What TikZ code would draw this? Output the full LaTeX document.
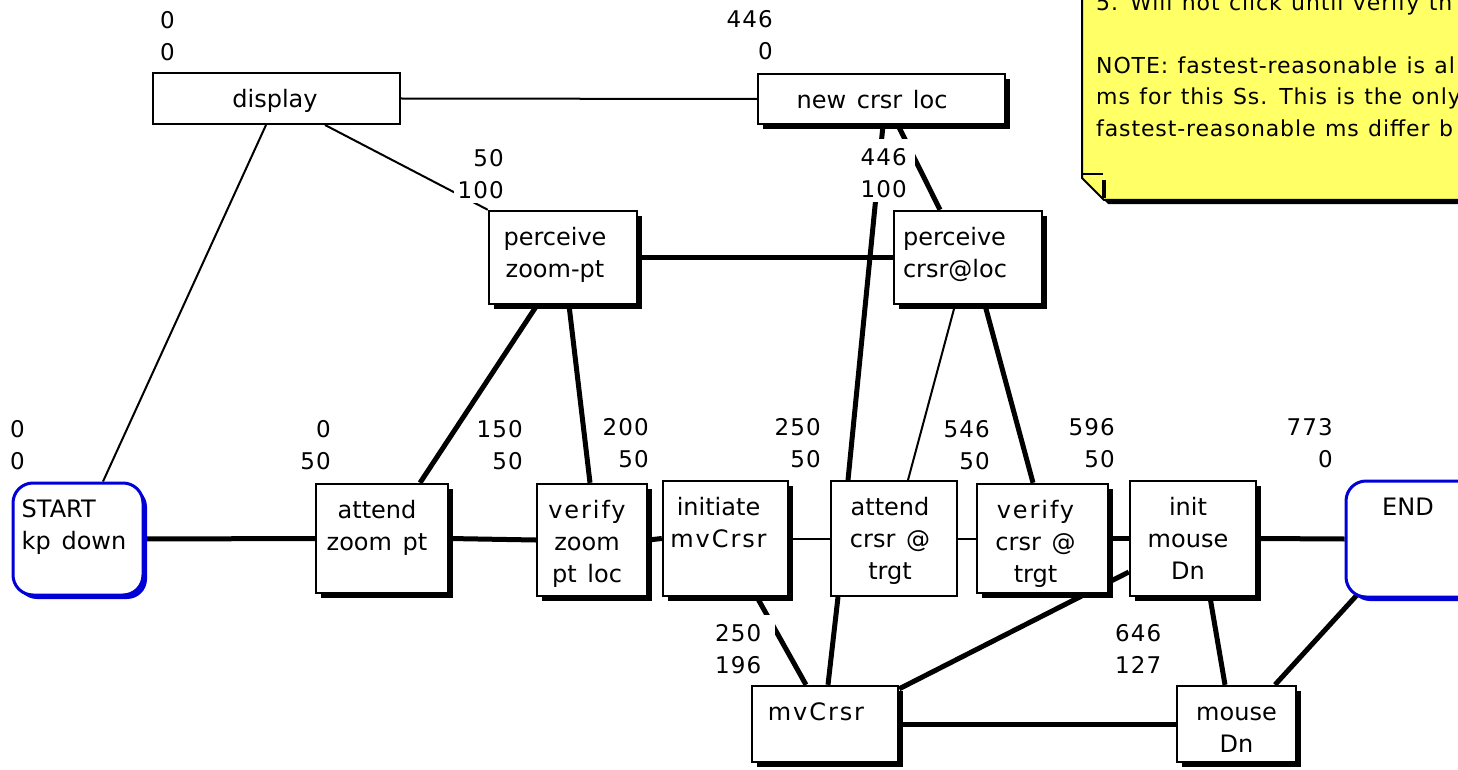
\documentclass[tikz,border=0pt]{standalone}
\usepackage{fontspec}
\setmainfont{DejaVu Sans}[WordSpace=1.4]
\newfontfamily\notefont{DejaVu Sans}[LetterSpace=4,WordSpace=1.2]
\newfontfamily\numfont{DejaVu Sans}[LetterSpace=5]
\newcommand\spaced[1]{{\addfontfeature{LetterSpace=8}#1}}
\usetikzlibrary{shadows,calc}
\definecolor{termblue}{RGB}{0,0,215}
\definecolor{noteyellow}{RGB}{255,255,102}
\pgfdeclarelayer{paper}
\pgfdeclarelayer{links}
\pgfsetlayers{paper,links,main}
\tikzset{
  wh/.style 2 args={minimum width=#1pt, minimum height=#2pt},
  box/.style={draw=black, line width=2.4pt, fill=white, rectangle, inner sep=0pt},
  shbox/.style={box, general shadow={fill=black, shadow xshift=5pt, shadow yshift=-5pt}},
  flatbox/.style={box, line width=2pt},
  term/.style={draw=termblue, line width=3pt, fill=white, rectangle, rounded corners=20pt, inner sep=0pt,
    general shadow={fill=termblue, shadow xshift=4pt, shadow yshift=-4pt}},
  btext/.style={anchor=north, inner sep=0pt, align=center, font=\fontsize{24}{32}\selectfont},
  num/.style={fill=white, inner sep=4pt, font=\numfont\fontsize{23}{32}\selectfont},
  link/.style={line width=2pt},
  heavy/.style={line width=5pt},
}
\begin{document}
\begin{tikzpicture}[x=1pt,y=-1pt]
\useasboundingbox (0,0) rectangle (1458,770);
\begin{pgfonlayer}{paper}
\fill[white] (0,0) rectangle (1458,770);
\end{pgfonlayer}
\clip (0,0) rectangle (1458,770);

% sticky note in the upper right corner
\fill[black] (1086,-10) -- (1086,182) -- (1108,204) -- (1470,204) -- (1470,-10) -- cycle;
\filldraw[fill=noteyellow, draw=black, line width=2pt]
  (1082,-10) -- (1082,178) -- (1104,200) -- (1470,200) -- (1470,-10) -- cycle;
\draw[line width=1.5pt] (1082,174) -- (1103,174);
\draw[line width=4pt] (1104,180) -- (1104,198);
\node[anchor=north west, inner sep=0pt, align=left, font=\notefont\fontsize{22}{31.5}\selectfont] (memo) at (1096,-12)
  {\strut 5. Will not click until verify th\\\strut\\NOTE: fastest-reasonable is al\\ms for this Ss. This is the only\\fastest-reasonable ms differ b};

% activity boxes
\node[flatbox, wh={247}{51}] (display) at (276.5,98.5) {};
\node[shbox, wh={247}{50}] (newloc) at (881.5,99) {};
\node[shbox, wh={148}{93}] (pzoom) at (563,257.5) {};
\node[shbox, wh={148}{93}] (pcrsr) at (968,257.5) {};
\node[term, wh={130}{112}] (start) at (78,539) {};
\node[shbox, wh={132}{109}] (attzoom) at (382,538.5) {};
\node[shbox, wh={110}{112}] (verzoom) at (592,540) {};
\node[shbox, wh={125}{115}] (initmv) at (725.5,538.5) {};
\node[flatbox, wh={126}{115}] (attcrsr) at (894,538.5) {};
\node[shbox, wh={131}{109}] (vercrsr) at (1042.5,538.5) {};
\node[shbox, wh={126}{115}] (initmd) at (1193,538.5) {};
\node[term, wh={134}{116}] (finish) at (1413,539) {};
\node[shbox, wh={146}{76}] (mvcrsr) at (825,724) {};
\node[shbox, wh={119}{76}] (mousedn) at (1236.5,724) {};

% box captions
\node[btext] (display-t) at ($(display.north)+(-1.5,13)$) {\strut display};
\node[btext] (newloc-t) at ($(newloc.north)+(-9.5,13)$) {\strut new crsr loc};
\node[btext] (pzoom-t) at ($(pzoom.north)+(-8,13)$) {\strut perceive\\zoom-pt};
\node[btext, anchor=north west, align=left] (pcrsr-t) at ($(pcrsr.north west)+(10,13)$) {\strut perceive\\crsr@loc};
\node[btext, anchor=north west, align=left] (start-t) at ($(start.north west)+(10,13)$) {\strut START\\kp down};
\node[btext] (attzoom-t) at ($(attzoom.north)+(-5,13)$) {\strut attend\\zoom pt};
\node[btext] (verzoom-t) at ($(verzoom.north)+(-5,13)$) {\strut \spaced{verify}\\zoom\\pt loc};
\node[btext] (initmv-t) at ($(initmv.north)+(-7,13)$) {\strut initiate\\\spaced{mvCrsr}};
\node[btext] (attcrsr-t) at ($(attcrsr.north)+(-4,13)$) {\strut attend\\crsr @\\trgt};
\node[btext] (vercrsr-t) at ($(vercrsr.north)+(-7,13)$) {\strut \spaced{verify}\\crsr @\\trgt};
\node[btext] (initmd-t) at ($(initmd.north)+(-5,13)$) {\strut init\\mouse\\Dn};
\node[btext] (finish-t) at ($(finish.north)+(-5,13)$) {\strut END};
\node[btext] (mvcrsr-t) at ($(mvcrsr.north)+(-9,13)$) {\strut \spaced{mvCrsr}};
\node[btext] (mousedn-t) at ($(mousedn.north)+(0,13)$) {\strut mouse\\Dn};

% connectors, kept beneath the boxes
\begin{pgfonlayer}{links}
\draw[link] ($(display.south)+(-10.5,0)$) -- ($(start.north)+(25,0)$);
\draw[link] ($(display.south)+(48.5,0)$) -- (pzoom.north west);
\draw[link] (display.east) -- (newloc.west);
\draw[heavy] ($(newloc.south)+(1.5,0)$) -- ($(attcrsr.north)+(-46,0)$);
\draw[heavy] ($(newloc.south)+(16.5,0)$) -- ($(pcrsr.north)+(-28,0)$);
\draw[heavy] (pzoom.east) -- (pcrsr.west);
\draw[heavy] ($(pzoom.south)+(-26,0)$) -- ($(attzoom.north)+(38,0)$);
\draw[heavy] ($(pzoom.south)+(6,0)$) -- ($(verzoom.north)+(-2,0)$);
\draw[link] ($(pcrsr.south)+(-13,0)$) -- ($(attcrsr.north)+(14,0)$);
\draw[heavy] ($(pcrsr.south)+(17,0)$) -- ($(vercrsr.north)+(-9.5,0)$);
\draw[heavy] (start.east) -- (attzoom.west);
\draw[heavy] (attzoom.east) -- (verzoom.west);
\draw[heavy] (verzoom.east) -- (initmv.west);
\draw[link] (initmv.east) -- (attcrsr.west);
\draw[link] (attcrsr.east) -- (vercrsr.west);
\draw[heavy] (vercrsr.east) -- (initmd.west);
\draw[heavy] (initmd.east) -- (finish.west);
\draw[heavy] ($(initmv.south)+(31.5,0)$) -- ($(mvcrsr.north)+(-19,0)$);
\draw[heavy] ($(attcrsr.south)+(-56,0)$) -- ($(mvcrsr.north)+(3,0)$);
\draw[heavy] ($(mvcrsr.north east)+(0,4)$) -- ($(initmd.west)+(0,33.5)$);
\draw[heavy] ($(initmd.south)+(17,0)$) -- ($(mousedn.north)+(-11.5,0)$);
\draw[heavy] ($(finish.south west)+(12,-3)$) -- ($(mousedn.north)+(38.5,0)$);
\draw[heavy] (mvcrsr.east) -- (mousedn.west);
\end{pgfonlayer}

% timing labels (start / duration)
\node[num, anchor=north west, align=left] (n-display) at (156,1.6) {\strut 0\\0};
\node[num, anchor=north east, align=right] (n-newloc) at (777,0.6) {\strut 446\\0};
\node[num, anchor=north east, align=right] (n-pzoom) at (508,139.6) {\strut 50\\100};
\node[num, anchor=north east, align=right] (n-pcrsr) at (915,138.6) {\strut 446\kern4pt\\100\kern4pt};
\node[num, anchor=north west, align=left] (n-start) at (6,410.6) {\strut 0\\0};
\node[num, anchor=north east, align=right] (n-attzoom) at (335,410.6) {\strut 0\\50};
\node[num, anchor=north east, align=right] (n-verzoom) at (527,410.6) {\strut 150\\50};
\node[num, anchor=north east, align=right] (n-initmv) at (653,408.6) {\strut 200\\50};
\node[num, anchor=north east, align=right] (n-attcrsr) at (825,408.6) {\strut 250\\50};
\node[num, anchor=north east, align=right] (n-vercrsr) at (994,410.6) {\strut 546\\50};
\node[num, anchor=north east, align=right] (n-initmd) at (1119,408.6) {\strut 596\\50};
\node[num, anchor=north east, align=right] (n-finish) at (1337,408.6) {\strut 773\\0};
\node[num, anchor=north west, align=left] (n-mvcrsr) at (711,614.6) {\strut 250\kern10pt\\196};
\node[num, anchor=north west, align=left] (n-mousedn) at (1111,614.6) {\strut 646\\127};
\end{tikzpicture}
\end{document}
